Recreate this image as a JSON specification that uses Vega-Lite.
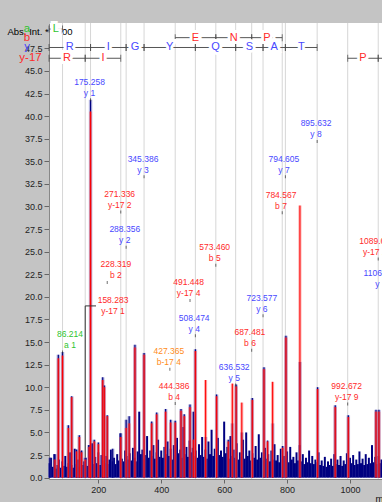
{
  "$schema": "https://vega.github.io/schema/vega-lite/v6.json",
  "width": 333,
  "height": 456,
  "autosize": "none",
  "padding": {"left": 49, "top": 23, "right": 0, "bottom": 23},
  "background": "#c4c4c4",
  "config": {
    "view": {"fill": "white", "stroke": null},
    "font": "Liberation Sans",
    "text": {"font": "Liberation Sans"},
    "axis": {"grid": false, "labelOverlap": false, "labelSeparation": 0}
  },
  "datasets": {
    "grid": [
      {"mz": 86.214}, {"mz": 158.283}, {"mz": 175.258}, {"mz": 271.336}, {"mz": 288.356},
      {"mz": 345.386}, {"mz": 444.386}, {"mz": 508.474}, {"mz": 573.46}, {"mz": 636.532},
      {"mz": 687.481}, {"mz": 723.577}, {"mz": 784.567}, {"mz": 794.605}, {"mz": 895.632},
      {"mz": 992.672}, {"mz": 1089.687}
    ],
    "noise": [
      {"mz":45,"v":1.6},{"mz":50,"v":2.2},{"mz":55,"v":1.2},{"mz":60,"v":2.6},{"mz":65,"v":1.0},{"mz":70,"v":1.4},{"mz":75,"v":2.0},{"mz":80,"v":1.1},{"mz":85,"v":1.8},{"mz":90,"v":1.3},
      {"mz":95,"v":2.4},{"mz":100,"v":1.2},{"mz":105,"v":1.6},{"mz":110,"v":2.8},{"mz":115,"v":1.4},{"mz":120,"v":1.1},{"mz":125,"v":3.2},{"mz":130,"v":1.5},{"mz":135,"v":2.0},{"mz":140,"v":1.2},
      {"mz":145,"v":2.9},{"mz":150,"v":1.4},{"mz":155,"v":1.8},{"mz":160,"v":2.2},{"mz":165,"v":1.3},{"mz":170,"v":3.6},{"mz":175,"v":1.9},{"mz":180,"v":3.8},{"mz":185,"v":1.5},{"mz":190,"v":2.3},
      {"mz":195,"v":1.6},{"mz":200,"v":2.8},{"mz":205,"v":1.4},{"mz":210,"v":2.5},{"mz":215,"v":1.9},{"mz":220,"v":1.6},{"mz":225,"v":2.4},{"mz":230,"v":1.5},{"mz":235,"v":2.0},{"mz":240,"v":3.1},
      {"mz":245,"v":1.8},{"mz":250,"v":2.2},{"mz":255,"v":1.5},{"mz":260,"v":2.6},{"mz":265,"v":1.9},{"mz":270,"v":4.9},{"mz":275,"v":2.1},{"mz":280,"v":1.8},{"mz":285,"v":3.0},{"mz":290,"v":2.4},
      {"mz":295,"v":2.0},{"mz":300,"v":2.7},{"mz":305,"v":1.9},{"mz":310,"v":3.3},{"mz":315,"v":2.2},{"mz":320,"v":1.8},{"mz":325,"v":2.9},{"mz":330,"v":7.3},{"mz":335,"v":2.6},{"mz":340,"v":3.1},
      {"mz":345,"v":2.0},{"mz":350,"v":2.5},{"mz":355,"v":4.6},{"mz":360,"v":2.2},{"mz":365,"v":3.0},{"mz":370,"v":2.4},{"mz":375,"v":3.6},{"mz":380,"v":2.1},{"mz":385,"v":2.8},{"mz":390,"v":4.2},
      {"mz":395,"v":2.3},{"mz":400,"v":3.0},{"mz":405,"v":2.2},{"mz":410,"v":3.4},{"mz":415,"v":2.6},{"mz":420,"v":4.0},{"mz":425,"v":2.4},{"mz":430,"v":3.2},{"mz":435,"v":2.0},{"mz":440,"v":3.6},
      {"mz":445,"v":2.5},{"mz":450,"v":4.4},{"mz":455,"v":2.7},{"mz":460,"v":3.1},{"mz":465,"v":2.2},{"mz":470,"v":5.6},{"mz":475,"v":2.6},{"mz":480,"v":3.4},{"mz":485,"v":2.3},{"mz":490,"v":4.1},
      {"mz":495,"v":2.8},{"mz":500,"v":3.3},{"mz":505,"v":2.4},{"mz":510,"v":3.0},{"mz":515,"v":2.2},{"mz":520,"v":3.7},{"mz":525,"v":2.5},{"mz":530,"v":4.5},{"mz":535,"v":2.3},{"mz":540,"v":3.1},
      {"mz":545,"v":2.1},{"mz":550,"v":4.0},{"mz":555,"v":2.6},{"mz":560,"v":5.3},{"mz":565,"v":2.4},{"mz":570,"v":3.2},{"mz":575,"v":2.2},{"mz":580,"v":4.4},{"mz":585,"v":2.5},{"mz":590,"v":3.0},
      {"mz":595,"v":2.3},{"mz":600,"v":6.2},{"mz":605,"v":2.7},{"mz":610,"v":3.4},{"mz":615,"v":2.1},{"mz":620,"v":4.6},{"mz":625,"v":2.4},{"mz":630,"v":3.1},{"mz":635,"v":2.2},{"mz":640,"v":3.8},
      {"mz":645,"v":2.0},{"mz":650,"v":2.8},{"mz":655,"v":2.3},{"mz":660,"v":4.2},{"mz":665,"v":2.1},{"mz":670,"v":5.0},{"mz":675,"v":2.4},{"mz":680,"v":3.0},{"mz":685,"v":1.9},{"mz":690,"v":2.7},
      {"mz":695,"v":2.2},{"mz":700,"v":3.5},{"mz":705,"v":2.0},{"mz":710,"v":4.8},{"mz":715,"v":2.2},{"mz":720,"v":2.8},{"mz":725,"v":1.9},{"mz":730,"v":3.3},{"mz":735,"v":2.1},{"mz":740,"v":2.6},
      {"mz":745,"v":1.8},{"mz":750,"v":3.0},{"mz":755,"v":2.0},{"mz":760,"v":3.7},{"mz":765,"v":1.9},{"mz":770,"v":2.5},{"mz":775,"v":1.7},{"mz":780,"v":3.2},{"mz":785,"v":2.0},{"mz":790,"v":2.4},
      {"mz":795,"v":1.8},{"mz":800,"v":2.9},{"mz":805,"v":1.7},{"mz":810,"v":3.4},{"mz":815,"v":2.0},{"mz":820,"v":2.3},{"mz":825,"v":1.6},{"mz":830,"v":2.8},{"mz":835,"v":1.9},{"mz":840,"v":3.6},
      {"mz":845,"v":1.8},{"mz":850,"v":2.6},{"mz":855,"v":1.5},{"mz":860,"v":2.2},{"mz":865,"v":1.7},{"mz":870,"v":3.0},{"mz":875,"v":1.6},{"mz":880,"v":2.4},{"mz":885,"v":1.5},{"mz":890,"v":2.0},
      {"mz":895,"v":1.7},{"mz":900,"v":2.8},{"mz":905,"v":1.4},{"mz":910,"v":1.9},{"mz":915,"v":1.3},{"mz":920,"v":2.3},{"mz":925,"v":1.2},{"mz":930,"v":1.8},{"mz":935,"v":1.4},{"mz":940,"v":2.1},
      {"mz":945,"v":1.3},{"mz":950,"v":2.6},{"mz":955,"v":1.5},{"mz":960,"v":2.0},{"mz":965,"v":1.4},{"mz":970,"v":2.4},{"mz":975,"v":1.3},{"mz":980,"v":1.9},{"mz":985,"v":1.5},{"mz":990,"v":2.7},
      {"mz":995,"v":1.4},{"mz":1000,"v":2.2},{"mz":1005,"v":1.6},{"mz":1010,"v":2.5},{"mz":1015,"v":1.4},{"mz":1020,"v":2.0},{"mz":1025,"v":1.5},{"mz":1030,"v":2.9},{"mz":1035,"v":1.6},{"mz":1040,"v":2.1},
      {"mz":1045,"v":1.4},{"mz":1050,"v":2.6},{"mz":1055,"v":1.5},{"mz":1060,"v":2.2},{"mz":1065,"v":1.6},{"mz":1070,"v":3.6},{"mz":1075,"v":1.7},{"mz":1080,"v":2.3},{"mz":1085,"v":1.5},{"mz":1090,"v":2.4},
      {"mz":1095,"v":1.6},{"mz":1100,"v":2.0}
    ],
    "peaks": [
      {"mz":46,"prof":2.2,"int":0},{"mz":62,"prof":2.6,"int":2.0},{"mz":72.8,"prof":13.6,"int":13.2},{"mz":86.2,"prof":13.9,"int":13.5},
      {"mz":104.6,"prof":5.8,"int":5.5},{"mz":115.4,"prof":9.0,"int":8.9},{"mz":131,"prof":3.1,"int":2.9},{"mz":139.5,"prof":4.7,"int":4.5},
      {"mz":147,"prof":3.0,"int":2.8},{"mz":158.3,"prof":2.2,"int":2.0},{"mz":171,"prof":3.6,"int":3.4},{"mz":175.3,"prof":41.8,"int":40.5},
      {"mz":187,"prof":4.2,"int":4.0},{"mz":200,"prof":3.9,"int":3.7},{"mz":214,"prof":11.1,"int":10.8},{"mz":219,"prof":10.2,"int":10.0},
      {"mz":228.3,"prof":6.9,"int":6.8},{"mz":245.7,"prof":3.2,"int":0},{"mz":271.3,"prof":4.9,"int":4.5},{"mz":288.4,"prof":6.4,"int":5.5},
      {"mz":298,"prof":6.8,"int":6.0},{"mz":316.4,"prof":14.7,"int":14.4},{"mz":345.4,"prof":13.8,"int":13.6},{"mz":369.7,"prof":6.2,"int":6.0},
      {"mz":385.6,"prof":7.2,"int":7.0},{"mz":414,"prof":7.6,"int":7.3},{"mz":430,"prof":6.4,"int":6.1},{"mz":444.4,"prof":6.3,"int":6.1},
      {"mz":462.8,"prof":7.6,"int":7.4},{"mz":473,"prof":7.0,"int":6.8},{"mz":491.4,"prof":8.1,"int":7.8},{"mz":502,"prof":7.3,"int":4.2},
      {"mz":508.5,"prof":14.2,"int":14.0},{"mz":541,"prof":4.5,"int":10.8},{"mz":576,"prof":9.2,"int":9.0},{"mz":613,"prof":4.2,"int":4.0},
      {"mz":626,"prof":6.0,"int":10.4},{"mz":638,"prof":10.3,"int":10.1},{"mz":656,"prof":5.0,"int":8.3},{"mz":689.5,"prof":8.8,"int":8.6},
      {"mz":726.6,"prof":12.2,"int":12.0},{"mz":738,"prof":4.1,"int":4.0},{"mz":754,"prof":6.0,"int":10.6},{"mz":786,"prof":3.5,"int":3.3},
      {"mz":796.4,"prof":15.7,"int":15.5},{"mz":840.8,"prof":12.8,"int":30.1},{"mz":897,"prof":10.0,"int":9.8},{"mz":953,"prof":8.0,"int":7.8},
      {"mz":994.6,"prof":6.9,"int":6.7},{"mz":1082.6,"prof":7.5,"int":7.3},{"mz":1092,"prof":7.5,"int":7.3}
    ],
    "leader": [
      {"x1":158.283,"x2":158.283,"y1":2.2,"y2":19.0},
      {"x1":158.283,"x2":192.6,"y1":19.0,"y2":19.0}
    ],
    "seq": [
      {"cls":"a","lev":49.63,"x1":43.2,"x2":86.214,"mid":64.7,"letter":"L"},
      {"cls":"b","lev":48.68,"x1":444.386,"x2":573.46,"mid":508.9,"letter":"E"},
      {"cls":"b","lev":48.68,"x1":573.46,"x2":687.481,"mid":630.5,"letter":"N"},
      {"cls":"b","lev":48.68,"x1":687.481,"x2":784.567,"mid":736,"letter":"P"},
      {"cls":"y","lev":47.59,"x1":43.2,"x2":175.258,"mid":109.2,"letter":"R"},
      {"cls":"y","lev":47.59,"x1":175.258,"x2":288.356,"mid":231.8,"letter":"I"},
      {"cls":"y","lev":47.59,"x1":288.356,"x2":345.386,"mid":316.9,"letter":"G"},
      {"cls":"y","lev":47.59,"x1":345.386,"x2":508.474,"mid":426.9,"letter":"Y"},
      {"cls":"y","lev":47.59,"x1":508.474,"x2":636.532,"mid":572.5,"letter":"Q"},
      {"cls":"y","lev":47.59,"x1":636.532,"x2":723.577,"mid":680,"letter":"S"},
      {"cls":"y","lev":47.59,"x1":723.577,"x2":794.605,"mid":759.1,"letter":"A"},
      {"cls":"y","lev":47.59,"x1":794.605,"x2":895.632,"mid":845.1,"letter":"T"},
      {"cls":"y17","lev":46.4,"x1":43.2,"x2":158.283,"mid":100.7,"letter":"R"},
      {"cls":"y17","lev":46.4,"x1":158.283,"x2":271.336,"mid":214.8,"letter":"I"},
      {"cls":"y17","lev":46.4,"x1":992.672,"x2":1089.687,"mid":1041.2,"letter":"P"},
      {"cls":"y17","lev":46.4,"x1":1089.687,"x2":1101.7,"mid":1095,"letter":""}
    ],
    "rows": [
      {"cls":"a","lev":49.63,"lab":"a","lx":43.2},
      {"cls":"b","lev":48.68,"lab":"b","lx":43.2},
      {"cls":"y","lev":47.59,"lab":"y","lx":43.2},
      {"cls":"y17","lev":46.4,"lab":"y-17","lx":43.2}
    ],
    "labels": [
      {"t":"175.258\ny 1","cls":"y","lx":172,"tx":175.258,"ly":41.8},
      {"t":"345.386\ny 3","cls":"y","lx":342,"tx":345.386,"ly":33.3},
      {"t":"271.336\ny-17 2","cls":"y17","lx":268,"tx":271.336,"ly":29.4},
      {"t":"288.356\ny 2","cls":"y","lx":284,"tx":288.356,"ly":25.5},
      {"t":"228.319\nb 2","cls":"b","lx":255.6,"tx":228.319,"ly":21.6},
      {"t":"158.283\ny-17 1","cls":"y17","lx":246.7,"ly":17.7},
      {"t":"86.214\na 1","cls":"a","lx":110,"tx":86.214,"ly":13.9},
      {"t":"491.448\ny-17 4","cls":"y17","lx":487,"tx":491.448,"ly":19.6},
      {"t":"508.474\ny 4","cls":"y","lx":504.8,"tx":508.474,"ly":15.7},
      {"t":"427.365\nb-17 4","cls":"b17","lx":424,"tx":427.365,"ly":12.0},
      {"t":"444.386\nb 4","cls":"b","lx":441,"tx":444.386,"ly":8.2},
      {"t":"573.460\nb 5","cls":"b","lx":570,"tx":573.46,"ly":23.5},
      {"t":"723.577\ny 6","cls":"y","lx":720,"tx":723.577,"ly":17.9},
      {"t":"687.481\nb 6","cls":"b","lx":682,"tx":687.481,"ly":14.1},
      {"t":"636.532\ny 5","cls":"y","lx":632,"tx":636.532,"ly":10.25},
      {"t":"992.672\ny-17 9","cls":"y17","lx":989.5,"tx":992.672,"ly":8.15},
      {"t":"794.605\ny 7","cls":"y","lx":790,"tx":794.605,"ly":33.3},
      {"t":"784.567\nb 7","cls":"b","lx":780.7,"tx":784.567,"ly":29.3},
      {"t":"895.632\ny 8","cls":"y","lx":891.9,"tx":895.632,"ly":37.2},
      {"t":"1089.687\ny-17 10","cls":"y17","lx":1086,"tx":1089.687,"ly":24.2},
      {"t":"1106.701\ny 9","cls":"y","lx":1098.5,"tx":1106.701,"ly":20.6}
    ]
  },
  "layer": [
    {
      "data": {"name": "noise"},
      "mark": {"type": "rule", "color": "#000080", "strokeWidth": 2},
      "encoding": {
        "x": {"field": "mz", "type": "quantitative", "scale": {"domain": [43.2, 1101.7], "nice": false, "zero": false},
          "axis": {"title": "m/z", "values": [200, 400, 600, 800, 1000], "format": "d", "grid": false, "labelFont": "Liberation Sans", "labelFontSize": 9, "labelColor": "#222", "tickColor": "#666", "tickSize": 4, "domainColor": "#888", "labelPadding": 2,
            "titleFont": "Liberation Sans", "titleFontSize": 9.5, "titleFontWeight": "normal", "titleColor": "#111", "titleAlign": "left", "titleBaseline": "middle", "titleX": 326, "titleY": 19}},
        "y": {"field": "v", "type": "quantitative", "scale": {"domain": [-0.15, 50.3], "nice": false, "zero": false},
          "axis": {"title": "Abs. Int. * 1000", "tickCount": 100, "labelExpr": "(datum.value % 2.5 == 0 && datum.value < 49) ? format(datum.value, '.1f') : ''",
            "tickOpacity": {"condition": {"test": "datum.value % 2.5 == 0 && datum.value < 49", "value": 1}, "value": 0},
            "grid": false, "labelOverlap": false, "labelSeparation": 0, "labelBound": false,
            "labelFont": "Liberation Sans", "labelFontSize": 9, "labelColor": "#222", "tickColor": "#666", "tickSize": 5, "labelPadding": 2, "domainColor": "#888",
            "titleFont": "Liberation Sans", "titleFontSize": 9.5, "titleFontWeight": "normal", "titleColor": "#000", "titleAngle": 0, "titleAlign": "left", "titleBaseline": "middle", "titleX": -42, "titleY": 8}},
        "y2": {"datum": 0}
      }
    },
    {
      "data": {"name": "grid"},
      "mark": {"type": "rule", "color": "#d6d6d6", "strokeWidth": 1},
      "encoding": {
        "x": {"field": "mz", "type": "quantitative"}
      }
    },
    {
      "data": {"name": "peaks"},
      "mark": {"type": "rule", "color": "#3a3ab0", "opacity": 0.35, "strokeWidth": 3.5},
      "encoding": {
        "x": {"field": "mz", "type": "quantitative"},
        "y": {"field": "prof", "type": "quantitative"},
        "y2": {"datum": 0}
      }
    },
    {
      "data": {"name": "peaks"},
      "mark": {"type": "rule", "color": "#000080", "strokeWidth": 1.2},
      "encoding": {
        "x": {"field": "mz", "type": "quantitative"},
        "y": {"field": "prof", "type": "quantitative"},
        "y2": {"datum": 0}
      }
    },
    {
      "data": {"name": "peaks"},
      "transform": [{"filter": "datum.int > 0"}],
      "mark": {"type": "rule", "color": "#ff5050", "opacity": 0.5, "strokeWidth": 3},
      "encoding": {
        "x": {"field": "mz", "type": "quantitative"},
        "y": {"field": "int", "type": "quantitative"},
        "y2": {"datum": 0}
      }
    },
    {
      "data": {"name": "peaks"},
      "transform": [{"filter": "datum.int > 0"}],
      "mark": {"type": "rule", "color": "#ff0000", "strokeWidth": 1},
      "encoding": {
        "x": {"field": "mz", "type": "quantitative"},
        "y": {"field": "int", "type": "quantitative"},
        "y2": {"datum": 0}
      }
    },
    {
      "data": {"name": "leader"},
      "mark": {"type": "rule", "color": "#333", "strokeWidth": 1},
      "encoding": {
        "x": {"field": "x1", "type": "quantitative"},
        "x2": {"field": "x2"},
        "y": {"field": "y1", "type": "quantitative"},
        "y2": {"field": "y2"}
      }
    },
    {
      "data": {"name": "seq"},
      "mark": {"type": "rule", "color": "#555", "strokeWidth": 1},
      "encoding": {
        "x": {"field": "x1", "type": "quantitative"},
        "x2": {"field": "x2"},
        "y": {"field": "lev", "type": "quantitative"}
      }
    },
    {
      "data": {"name": "seq"},
      "mark": {"type": "tick", "orient": "vertical", "size": 7, "thickness": 1, "color": "#444"},
      "encoding": {
        "x": {"field": "x1", "type": "quantitative"},
        "y": {"field": "lev", "type": "quantitative"}
      }
    },
    {
      "data": {"name": "seq"},
      "transform": [{"filter": "datum.x2 < 1100"}],
      "mark": {"type": "tick", "orient": "vertical", "size": 7, "thickness": 1, "color": "#444"},
      "encoding": {
        "x": {"field": "x2", "type": "quantitative"},
        "y": {"field": "lev", "type": "quantitative"}
      }
    },
    {
      "data": {"name": "seq"},
      "mark": {"type": "text", "fontSize": 11, "stroke": "white", "strokeWidth": 6, "fill": "white", "baseline": "middle", "align": "center"},
      "encoding": {
        "x": {"field": "mid", "type": "quantitative"},
        "y": {"field": "lev", "type": "quantitative"},
        "text": {"field": "letter"}
      }
    },
    {
      "data": {"name": "seq"},
      "mark": {"type": "text", "fontSize": 11, "baseline": "middle", "align": "center"},
      "encoding": {
        "x": {"field": "mid", "type": "quantitative"},
        "y": {"field": "lev", "type": "quantitative"},
        "text": {"field": "letter"},
        "color": {"field": "cls", "type": "nominal", "scale": {"domain": ["a", "b", "y", "y17", "b17"], "range": ["#2ec42e", "#ff2a2a", "#4848ff", "#ff2a2a", "#ff8c1a"]}, "legend": null}
      }
    },
    {
      "data": {"name": "labels"},
      "transform": [{"filter": "isValid(datum.tx)"}],
      "mark": {"type": "tick", "orient": "vertical", "size": 3, "thickness": 1, "color": "#333"},
      "encoding": {
        "x": {"field": "tx", "type": "quantitative"},
        "y": {"field": "ly", "type": "quantitative"}
      }
    },
    {
      "data": {"name": "labels"},
      "mark": {"type": "text", "fontSize": 8.5, "lineBreak": "\n", "lineHeight": 11, "baseline": "bottom", "align": "center", "dy": -13},
      "encoding": {
        "x": {"field": "lx", "type": "quantitative"},
        "y": {"field": "ly", "type": "quantitative"},
        "text": {"field": "t"},
        "color": {"field": "cls", "type": "nominal", "scale": {"domain": ["a", "b", "y", "y17", "b17"], "range": ["#2ec42e", "#ff2a2a", "#4848ff", "#ff2a2a", "#ff8c1a"]}, "legend": null}
      }
    },
    {
      "data": {"name": "rows"},
      "transform": [{"filter": "datum.cls != 'y17'"}],
      "mark": {"type": "text", "fontSize": 11.5, "baseline": "middle", "align": "center", "dx": -22},
      "encoding": {
        "x": {"field": "lx", "type": "quantitative"},
        "y": {"field": "lev", "type": "quantitative"},
        "text": {"field": "lab"},
        "color": {"field": "cls", "type": "nominal", "scale": {"domain": ["a", "b", "y", "y17", "b17"], "range": ["#2ec42e", "#ff2a2a", "#4848ff", "#ff2a2a", "#ff8c1a"]}, "legend": null}
      }
    },
    {
      "data": {"name": "rows"},
      "transform": [{"filter": "datum.cls == 'y17'"}],
      "mark": {"type": "text", "fontSize": 11.5, "baseline": "middle", "align": "center", "dx": -18.5},
      "encoding": {
        "x": {"field": "lx", "type": "quantitative"},
        "y": {"field": "lev", "type": "quantitative"},
        "text": {"field": "lab"},
        "color": {"field": "cls", "type": "nominal", "scale": {"domain": ["a", "b", "y", "y17", "b17"], "range": ["#2ec42e", "#ff2a2a", "#4848ff", "#ff2a2a", "#ff8c1a"]}, "legend": null}
      }
    }
  ]
}
